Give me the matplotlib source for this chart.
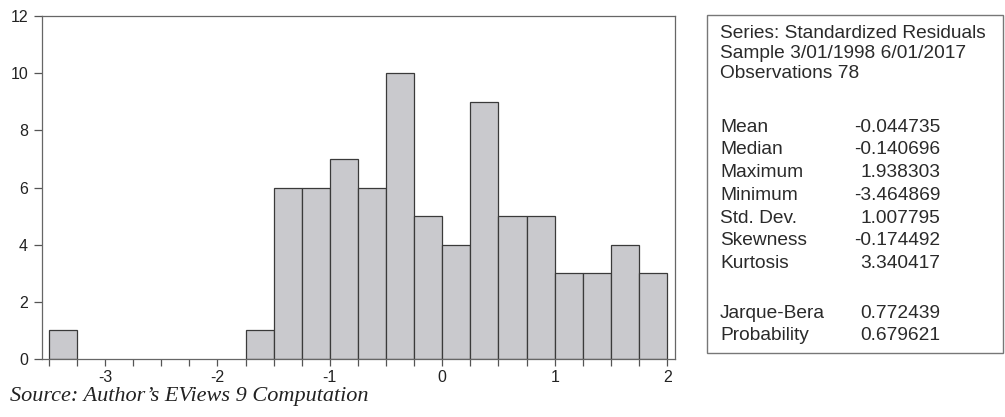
import numpy as np
import matplotlib
matplotlib.use("Agg")
import matplotlib.pyplot as plt
from matplotlib.patches import Rectangle

# histogram of standardized residuals (bin width 0.25)
bin_edges = np.arange(-3.5, 2.0001, 0.25)
counts = [1, 0, 0, 0, 0, 0, 0, 1, 6, 6, 7, 6, 10, 5, 4, 9, 5, 5, 3, 3, 4, 3]

header = ["Series: Standardized Residuals", "Sample 3/01/1998 6/01/2017", "Observations 78"]
stat_names = ["Mean", "Median", "Maximum", "Minimum", "Std. Dev.", "Skewness", "Kurtosis"]
stat_values = ["-0.044735", "-0.140696", "1.938303", "-3.464869", "1.007795", "-0.174492", "3.340417"]
test_names = ["Jarque-Bera", "Probability"]
test_values = ["0.772439", "0.679621"]

W, H = 1005, 417
plt.rcParams["font.family"] = ["Liberation Sans", "DejaVu Sans"]
plt.rcParams["axes.unicode_minus"] = False
fig = plt.figure(figsize=(W / 100, H / 100), dpi=100)
fig.patch.set_facecolor("white")

ax = fig.add_axes([42 / W, 1 - 359 / H, (675 - 42) / W, (359 - 16) / H])
lefts = bin_edges[:-1]
nonzero = [i for i, c in enumerate(counts) if c > 0]
ax.bar(lefts[nonzero], np.array(counts)[nonzero], width=0.25, align="edge",
       color="#c9c9cd", edgecolor="#3a3a3a", linewidth=0.9, zorder=2)
ax.set_xlim(-3.56, 2.07)
ax.set_ylim(0, 12)
ax.set_yticks(range(0, 13, 2))
ax.set_xticks([-3, -2, -1, 0, 1, 2])
ax.set_xticks(bin_edges, minor=True)
ax.tick_params(axis="x", which="both", direction="out", length=5, width=0.9,
               color="#555555", labelsize=11.5, pad=3, labelcolor="#222222")
ax.tick_params(axis="y", direction="out", length=6, width=0.9, color="#555555",
               labelsize=11.5, pad=4, labelcolor="#222222")
for s in ax.spines.values():
    s.set_color("#666666")
    s.set_linewidth(0.9)

fig.text(10 / W, 1 - 397 / H, "Source: Author\u2019s EViews 9 Computation",
         family="Liberation Serif", style="italic", fontsize=16,
         color="#222222", va="center", ha="left")

# statistics box
box = Rectangle((707 / W, 1 - 353 / H), (1003 - 707) / W, (353 - 15) / H,
                transform=fig.transFigure, fill=False, edgecolor="#777777", linewidth=1.0)
fig.patches.append(box)

fs = 13.8
xl, xr = 720 / W, 940 / W
for y, t in zip([34, 54, 74], header):
    fig.text(xl, 1 - y / H, t, fontsize=fs, color="#2a2a2a", va="center")
for i, (n, v) in enumerate(zip(stat_names, stat_values)):
    y = 127 + i * 22.8
    fig.text(xl, 1 - y / H, n, fontsize=fs, color="#2a2a2a", va="center")
    fig.text(xr, 1 - y / H, v, fontsize=fs, color="#2a2a2a", va="center", ha="right")
for y, n, v in zip([314, 335], test_names, test_values):
    fig.text(xl, 1 - y / H, n, fontsize=fs, color="#2a2a2a", va="center")
    fig.text(xr, 1 - y / H, v, fontsize=fs, color="#2a2a2a", va="center", ha="right")

fig.savefig("out.png", dpi=100, facecolor="white")
